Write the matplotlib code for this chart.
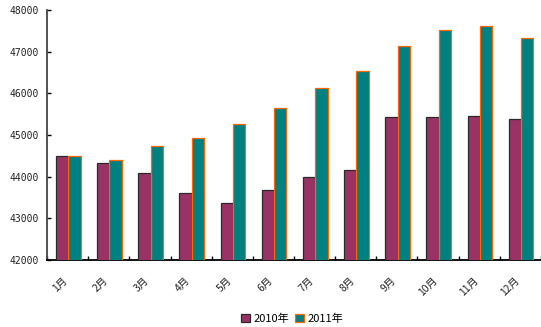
import numpy as np
import matplotlib
matplotlib.use("Agg")
import matplotlib.pyplot as plt
import matplotlib.transforms as mtransforms

plt.rcParams['font.family'] = ['Noto Sans CJK SC', 'DejaVu Sans']

# Monthly values
months = ["1月", "2月", "3月", "4月", "5月", "6月",
          "7月", "8月", "9月", "10月", "11月", "12月"]
vals_2010 = [44500, 44320, 44080, 43600, 43360, 43670,
             43990, 44160, 45440, 45440, 45460, 45380]
vals_2011 = [44490, 44390, 44740, 44920, 45260, 45640,
             46140, 46540, 47140, 47520, 47610, 47320]

fig = plt.figure(figsize=(5.41, 3.27), dpi=100)
ax = fig.add_axes([47 / 541, 1 - 260 / 327, 494 / 541, 250 / 327])

x = np.arange(len(months))
w = 0.3
ax.bar(x - w / 2 + 0.015, vals_2010, width=w, color="#993366",
       edgecolor="#2a2a2a", linewidth=0.9, label="2010年", zorder=3)
ax.bar(x + w / 2 + 0.015, vals_2011, width=w, color="#008080",
       edgecolor="#ff6600", linewidth=0.9, label="2011年", zorder=3)

ax.set_ylim(42000, 48000)
ax.set_xlim(-0.5, len(months) - 0.5)
ax.set_yticks(range(42000, 48001, 1000))
ax.set_yticklabels([str(v) for v in range(42000, 48001, 1000)],
                   family="DejaVu Sans Mono", fontsize=7, color="#222222")
ax.tick_params(axis="y", direction="in", length=3, width=1, pad=6)

# Month labels at centres, tick marks at the category boundaries
ax.set_xticks(x)
ax.set_xticklabels(months, rotation=45, ha="right", va="top",
                   rotation_mode="anchor", fontsize=7.5, color="#222222")
ax.tick_params(axis="x", which="major", length=0, pad=11)
shift = mtransforms.ScaledTranslation(-6 / 100, 0, fig.dpi_scale_trans)
for lbl in ax.get_xticklabels():
    lbl.set_transform(lbl.get_transform() + shift)
ax.set_xticks(np.arange(-0.5, len(months), 1), minor=True)
ax.tick_params(axis="x", which="minor", direction="in", length=3, width=1)

for s in ["top", "right"]:
    ax.spines[s].set_visible(False)
ax.spines["left"].set_color("#444444")
ax.spines["left"].set_linewidth(1.3)
ax.spines["bottom"].set_color("black")
ax.spines["bottom"].set_linewidth(1.3)

fig.legend(loc="center", bbox_to_anchor=(0.54, 0.025), ncol=2, frameon=False,
           fontsize=8, handlelength=0.8, handleheight=0.8,
           handletextpad=0.3, columnspacing=0.6, borderpad=0)

fig.savefig("out.png", dpi=100)
